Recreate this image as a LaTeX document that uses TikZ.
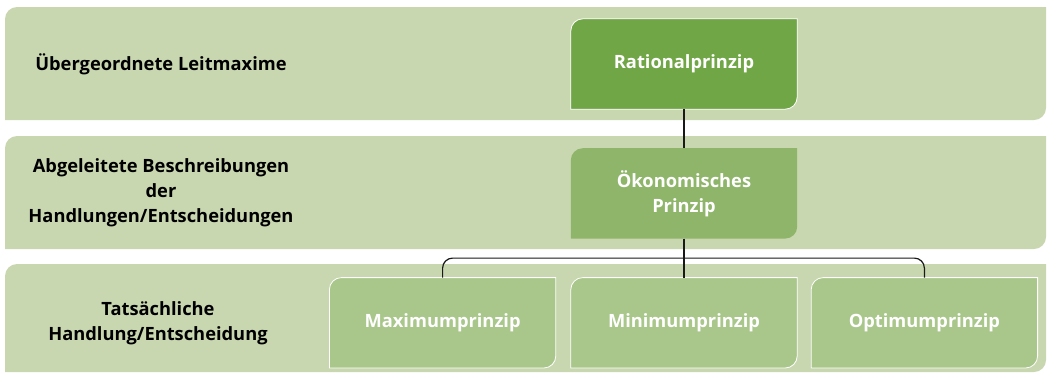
\documentclass[tikz,border=0pt]{standalone}
\usepackage{fontspec}
\setmainfont{Open Sans}
\usepackage{tikz}
\usetikzlibrary{calc}
\usetikzlibrary{positioning}

\definecolor{bandgreen}{HTML}{C9D7B1}
\definecolor{ratgreen}{HTML}{71A647}
\definecolor{oekgreen}{HTML}{8FB56A}
\definecolor{boxgreen}{HTML}{A9C68B}

\pgfdeclarelayer{bands}
\pgfdeclarelayer{boxes}
\pgfsetlayers{bands,boxes,main}

% rectangle with rounded top left and bottom right corners
\newcommand{\diagrect}[3]{%
  \path[#1] let \p1=#2, \p2=#3 in
    (\x1,\y1) -- (\x1,{\y2-12pt}) arc[start angle=180,end angle=90,radius=12pt]
    -- (\x2,\y2) -- (\x2,{\y1+12pt}) arc[start angle=0,end angle=-90,radius=12pt] -- cycle;}

\begin{document}
\begin{tikzpicture}[x=1pt,y=-1pt,node distance=39pt,font=\fontsize{18.3}{25}\selectfont\bfseries]
				\tikzstyle{level}=[align=center, text=black]
				\tikzstyle{prinzip}=[minimum width=226pt, minimum height=90pt, inner sep=0pt, align=center, text=white]
				\useasboundingbox (0,0) rectangle (1052,373);

						% Ebenen
						\begin{pgfonlayer}{bands}
							\diagrect{fill=bandgreen}{(5,120)}{(1046,7)}
							\diagrect{fill=bandgreen}{(5,249)}{(1046,136)}
							\diagrect{fill=bandgreen}{(5,372)}{(1046,264)}
						\end{pgfonlayer}

						\node[level] (L1) at (161,64) {Übergeordnete Leitmaxime};
						\node[level] (L2) at (161,193) {Abgeleitete Beschreibungen\\der\\Handlungen/Entscheidungen};
						\node[level] (L3) at (158,323) {Tatsächliche\\Handlung/Entscheidung};

						% Prinzipien
						\node[prinzip] (R) at (684,64) {Rationalprinzip};
						\node[prinzip] (Oe) [below=of R] {Ökonomisches\\Prinzip};
						\node[prinzip] (Min) [below=of Oe] {Minimumprinzip};
						\node[prinzip] (Max) [left=15pt of Min] {Maximumprinzip};
						\node[prinzip] (Opt) [right=14pt of Min] {Optimumprinzip};

						\begin{pgfonlayer}{boxes}
							\diagrect{fill=ratgreen, draw=white, line width=0.8pt}{(R.south west)}{(R.north east)}
							\diagrect{fill=oekgreen}{(Oe.south west)}{(Oe.north east)}
							\foreach \b in {Max,Min,Opt}
								\diagrect{fill=boxgreen, draw=white, line width=0.8pt}{(\b.south west)}{(\b.north east)};
						\end{pgfonlayer}

						\coordinate (split) at ($(Oe.south)!0.5!(Min.north)$);

						\path[draw=black!90, line width=1.2pt]
							(R) edge (Oe)
							(Oe) edge (Min);
						\draw[black!90, line width=1.2pt, rounded corners=10pt]
							(Max.north) |- (split) -| (Opt.north);

				\end{tikzpicture}
\end{document}
